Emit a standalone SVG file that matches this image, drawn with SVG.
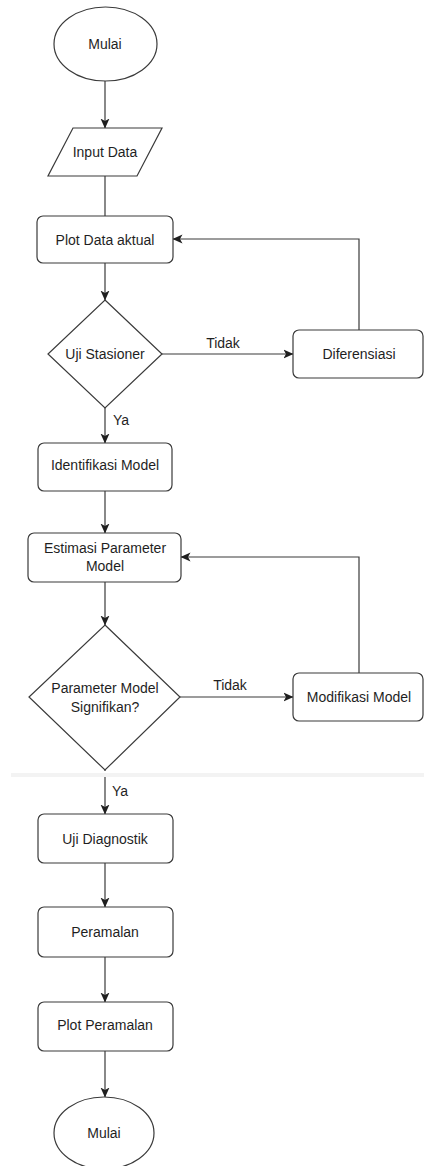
<svg xmlns="http://www.w3.org/2000/svg" width="424" height="1166" viewBox="0 0 424 1166">
  <style>
    .shape { fill: #ffffff; stroke: #3a3a3a; stroke-width: 1.2; }
    .lbl { font-family: "Liberation Sans", Arial, sans-serif; font-size: 14px; fill: #1f1f1f; text-anchor: middle; dominant-baseline: central; }
    .edge { fill: none; stroke: #3a3a3a; stroke-width: 1.2; }
    .elbl { font-family: "Liberation Sans", Arial, sans-serif; font-size: 14px; fill: #1f1f1f; dominant-baseline: central; }
  </style>
  <defs>
    <marker id="arrow" markerUnits="userSpaceOnUse" markerWidth="10" markerHeight="10" refX="9.5" refY="5" orient="auto">
      <path d="M0,0.5 L10,5 L0,9.5 L2.5,5 Z" fill="#1f1f1f"/>
    </marker>
  </defs>
  <rect x="0" y="0" width="424" height="1166" fill="#ffffff"/>

  <g id="connectors">
    <path class="edge" d="M105,81 L105,128" marker-end="url(#arrow)"/>
    <path class="edge" d="M105,176 L105,216" />
    <path class="edge" d="M105,263 L105,300" marker-end="url(#arrow)"/>
    <path class="edge" d="M162,354 L293,354" marker-end="url(#arrow)"/>
    <text class="elbl" x="223" y="343" text-anchor="middle">Tidak</text>
    <path class="edge" d="M359,330 L359,239 L173,239" marker-end="url(#arrow)"/>
    <path class="edge" d="M105,408 L105,443" marker-end="url(#arrow)"/>
    <text class="elbl" x="113" y="420">Ya</text>
    <path class="edge" d="M105,491 L105,533" marker-end="url(#arrow)"/>
    <path class="edge" d="M105,582 L105,625" marker-end="url(#arrow)"/>
    <path class="edge" d="M180,697 L293,697" marker-end="url(#arrow)"/>
    <text class="elbl" x="230" y="685" text-anchor="middle">Tidak</text>
    <path class="edge" d="M359,673 L359,557 L181,557" marker-end="url(#arrow)"/>
    <path class="edge" d="M105,770 L105,814" marker-end="url(#arrow)"/>
    <text class="elbl" x="112" y="791">Ya</text>
    <path class="edge" d="M105,863 L105,907" marker-end="url(#arrow)"/>
    <path class="edge" d="M105,957 L105,1002" marker-end="url(#arrow)"/>
    <path class="edge" d="M105,1051 L105,1097" marker-end="url(#arrow)"/>
  </g>

  <g id="start">
    <ellipse class="shape" cx="105.5" cy="44" rx="51.5" ry="37"/>
    <text class="lbl" x="105" y="44">Mulai</text>
  </g>
  <g id="input-data">
    <polygon class="shape" points="73,128 162,128 137,176 48,176"/>
    <text class="lbl" x="105" y="152">Input Data</text>
  </g>
  <g id="plot-data">
    <rect class="shape" x="37" y="216" width="136" height="47" rx="6"/>
    <text class="lbl" x="105" y="240">Plot Data aktual</text>
  </g>
  <g id="uji-stasioner">
    <polygon class="shape" points="105,300 162,354 105,408 48,354"/>
    <text class="lbl" x="105" y="354">Uji Stasioner</text>
  </g>
  <g id="diferensiasi">
    <rect class="shape" x="293" y="330" width="130" height="48" rx="6"/>
    <text class="lbl" x="359" y="354">Diferensiasi</text>
  </g>
  <g id="identifikasi">
    <rect class="shape" x="38" y="443" width="134" height="48" rx="6"/>
    <text class="lbl" x="105" y="465">Identifikasi Model</text>
  </g>
  <g id="estimasi">
    <rect class="shape" x="28" y="533" width="153" height="49" rx="6"/>
    <text class="lbl" x="105" y="548">Estimasi Parameter</text>
    <text class="lbl" x="105" y="566">Model</text>
  </g>
  <g id="signifikan">
    <polygon class="shape" points="105,625 180,697 105,770 29,697"/>
    <text class="lbl" x="105" y="688">Parameter Model</text>
    <text class="lbl" x="105" y="707">Signifikan?</text>
  </g>
  <g id="modifikasi">
    <rect class="shape" x="293" y="673" width="130" height="48" rx="6"/>
    <text class="lbl" x="359" y="697">Modifikasi Model</text>
  </g>
  <g id="seam">
    <rect x="0" y="771" width="424" height="2" fill="#ffffff"/>
    <rect x="11" y="773" width="413" height="4" fill="#f3f3f3"/>
  </g>
  <g id="uji-diagnostik">
    <rect class="shape" x="38" y="814" width="135" height="49" rx="6"/>
    <text class="lbl" x="105" y="839">Uji Diagnostik</text>
  </g>
  <g id="peramalan">
    <rect class="shape" x="38" y="907" width="135" height="50" rx="6"/>
    <text class="lbl" x="105" y="932">Peramalan</text>
  </g>
  <g id="plot-peramalan">
    <rect class="shape" x="38" y="1002" width="135" height="49" rx="6"/>
    <text class="lbl" x="105" y="1025">Plot Peramalan</text>
  </g>
  <g id="end">
    <ellipse class="shape" cx="104" cy="1133" rx="50" ry="36"/>
    <text class="lbl" x="104" y="1133">Mulai</text>
  </g>
</svg>
